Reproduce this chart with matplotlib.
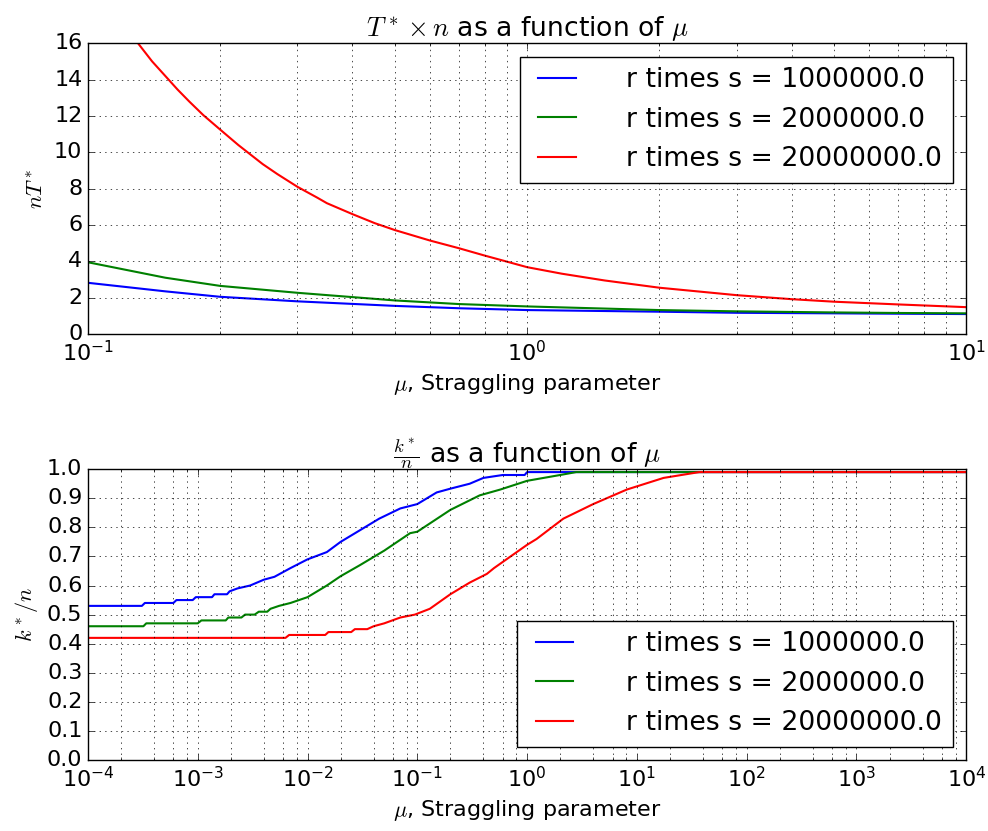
import numpy as np
import matplotlib
matplotlib.use('Agg')
import matplotlib.pyplot as plt
from matplotlib.ticker import LogLocator

plt.style.use('classic')
plt.rcParams['font.size'] = 16

etiquetas = ['r times s = 1000000.0', 'r times s = 2000000.0', 'r times s = 20000000.0']
colores = ['b', 'g', 'r']

# Panel superior: n*T* en funcion de mu
mu_azul = [0.1, 0.15, 0.2, 0.3, 0.5, 0.7, 1.0, 2.0, 3.0, 5.0, 7.0, 10.0]
t_azul = [2.82, 2.35, 2.05, 1.80, 1.55, 1.42, 1.32, 1.23, 1.17, 1.14, 1.12, 1.10]

mu_verde = [0.1, 0.15, 0.2, 0.3, 0.5, 0.7, 1.0, 2.0, 3.0, 5.0, 7.0, 10.0]
t_verde = [3.95, 3.10, 2.65, 2.27, 1.85, 1.65, 1.52, 1.32, 1.25, 1.19, 1.16, 1.14]

mu_rojo = [0.1, 0.11, 0.12, 0.13, 0.14, 0.15, 0.16, 0.17, 0.183, 0.2, 0.22, 0.25,
           0.27, 0.3, 0.333, 0.35, 0.4, 0.45, 0.5, 0.6, 0.7, 0.8, 1.0, 1.2, 1.5,
           2.0, 3.0, 4.0, 5.0, 7.0, 10.0]
t_rojo = [20.5, 18.8, 17.3, 16.0, 15.0, 14.2, 13.45, 12.8, 12.05, 11.25, 10.4, 9.35,
          8.8, 8.1, 7.5, 7.2, 6.6, 6.1, 5.72, 5.15, 4.72, 4.32, 3.68, 3.32, 2.95,
          2.55, 2.14, 1.92, 1.78, 1.63, 1.48]

# Panel inferior: k*/n en funcion de mu
mu_k_azul = [1e-4, 3.1e-4, 3.3e-4, 6.0e-4, 6.4e-4, 9.0e-4, 9.6e-4, 1.35e-3, 1.42e-3,
             1.85e-3, 1.95e-3, 2.3e-3, 3e-3, 4e-3, 5e-3, 7e-3, 1e-2, 1.5e-2, 2e-2,
             3e-2, 4.5e-2, 7e-2, 0.1, 0.15, 0.2, 0.3, 0.4, 0.6, 0.95, 1.0, 1e4]
k_azul = [0.53, 0.53, 0.54, 0.54, 0.55, 0.55, 0.56, 0.56, 0.57,
          0.57, 0.58, 0.59, 0.60, 0.62, 0.63, 0.66, 0.69, 0.715, 0.75,
          0.79, 0.83, 0.865, 0.88, 0.92, 0.933, 0.95, 0.97, 0.98, 0.98, 0.99, 0.99]

mu_k_verde = [1e-4, 3.2e-4, 3.4e-4, 1.0e-3, 1.08e-3, 1.8e-3, 1.9e-3, 2.5e-3, 2.7e-3,
              3.3e-3, 3.6e-3, 4.3e-3, 4.6e-3, 5.5e-3, 7e-3, 1e-2, 1.5e-2, 2e-2,
              3e-2, 5e-2, 8.6e-2, 0.1, 0.2, 0.37, 0.57, 1.0, 2.0, 2.8, 1e4]
k_verde = [0.46, 0.46, 0.47, 0.47, 0.48, 0.48, 0.49, 0.49, 0.50,
           0.50, 0.51, 0.51, 0.52, 0.53, 0.54, 0.56, 0.60, 0.632,
           0.67, 0.72, 0.78, 0.785, 0.86, 0.91, 0.93, 0.96, 0.98, 0.99, 0.99]

mu_k_rojo = [1e-4, 6.3e-3, 6.8e-3, 1.45e-2, 1.55e-2, 2.5e-2, 2.7e-2, 3.5e-2, 4e-2,
             5e-2, 7e-2, 0.095, 0.13, 0.2, 0.3, 0.43, 0.5, 1.0, 1.22, 2.14, 4.0,
             8.1, 17.5, 37.0, 1e4]
k_rojo = [0.42, 0.42, 0.43, 0.43, 0.44, 0.44, 0.45, 0.45, 0.46,
          0.47, 0.49, 0.50, 0.52, 0.57, 0.61, 0.64, 0.66, 0.74, 0.76, 0.83, 0.88,
          0.93, 0.97, 0.99, 0.99]

fig = plt.figure(figsize=(9.88, 8.31), dpi=100)

# Grafica superior
ax1 = fig.add_axes([0.089, 0.598, 0.889, 0.350])
ax1.plot(mu_azul, t_azul, color=colores[0], lw=1.5, label=etiquetas[0])
ax1.plot(mu_verde, t_verde, color=colores[1], lw=1.5, label=etiquetas[1])
ax1.plot(mu_rojo, t_rojo, color=colores[2], lw=1.5, label=etiquetas[2])
ax1.set_xscale('log')
ax1.set_xlim(0.1, 10)
ax1.set_ylim(0, 16)
ax1.set_title(r'$T^*\times n$ as a function of $\mu$')
ax1.set_xlabel(r'$\mu$, Straggling parameter')
ax1.set_ylabel(r'$nT^*$')
ax1.grid(True, which='both')
ax1.legend(loc='upper right', handletextpad=1.6)

# Grafica inferior
ax2 = fig.add_axes([0.089, 0.0854, 0.889, 0.350])
ax2.plot(mu_k_azul, k_azul, color=colores[0], lw=1.5, label=etiquetas[0])
ax2.plot(mu_k_verde, k_verde, color=colores[1], lw=1.5, label=etiquetas[1])
ax2.plot(mu_k_rojo, k_rojo, color=colores[2], lw=1.5, label=etiquetas[2])
ax2.set_xscale('log')
ax2.set_xlim(1e-4, 1e4)
ax2.xaxis.set_minor_locator(LogLocator(base=10, subs=(2.0, 4.0, 6.0, 8.0), numticks=20))
ax2.set_ylim(0, 1)
ax2.set_yticks(np.arange(0, 1.01, 0.1))
ax2.set_title(r'$\frac{k^*}{n}$ as a function of $\mu$')
ax2.set_xlabel(r'$\mu$, Straggling parameter')
ax2.set_ylabel(r'$k^*/n$')
ax2.grid(True, which='both')
ax2.legend(loc='lower right', handletextpad=1.7)

fig.savefig('out.png', dpi=100)
